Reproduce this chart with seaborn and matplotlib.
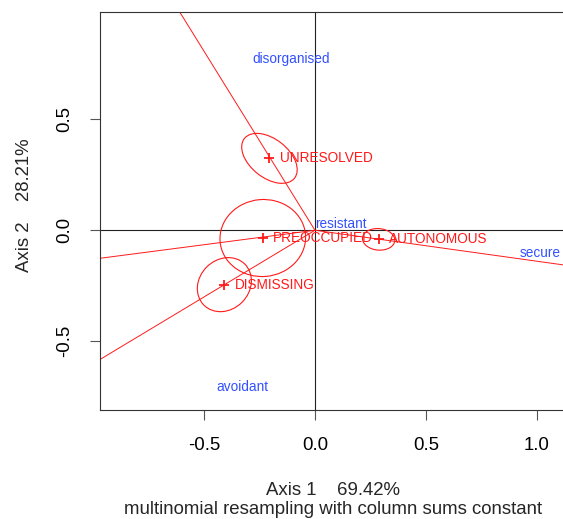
import numpy as np
import pandas as pd
import seaborn as sns
import matplotlib.pyplot as plt
from matplotlib.patches import Ellipse

# row points (attachment categories) and their confidence ellipses
row_names = ["UNRESOLVED", "PREOCCUPIED", "AUTONOMOUS", "DISMISSING"]
row_x = [-0.205, -0.235, 0.287, -0.408]
row_y = [0.324, -0.035, -0.041, -0.245]
ell_w = [0.288, 0.386, 0.146, 0.261]
ell_h = [0.174, 0.347, 0.097, 0.225]
ell_angle = [-38.5, 5, -5, 45]

# far ends of the lines drawn from the origin
line_x_end = [-0.61, -0.966, -0.966, 1.118]
line_y_end = [0.985, -0.126, -0.581, -0.156]

# column points (infant categories)
col_names = ["disorganised", "resistant", "avoidant", "secure"]
col_x = [-0.109, 0.116, -0.326, 1.013]
col_y = [0.770, 0.028, -0.707, -0.102]

x_ticks = [-0.5, 0.0, 0.5, 1.0]
y_ticks = [-0.5, 0.0, 0.5]

sns.set_theme(style="ticks")
plt.rcParams["font.family"] = ["Liberation Sans", "DejaVu Sans"]

red = "#ff1a1a"
blue = "#3350ff"

fig = plt.figure(figsize=(5.63, 5.19), dpi=100)
ax = fig.add_axes([0.1785, 0.21, 0.8265, 0.7675])

df_rows = pd.DataFrame({"x": row_x, "y": row_y, "name": row_names})

ax.axhline(0, color="#222222", lw=0.8, zorder=1)
ax.axvline(0, color="#222222", lw=0.8, zorder=1)

for xe, ye in zip(line_x_end, line_y_end):
    ax.plot([0, xe], [0, ye], color=red, lw=0.7, zorder=2)

for x, y, w, h, a in zip(row_x, row_y, ell_w, ell_h, ell_angle):
    ax.add_patch(Ellipse((x, y), w, h, angle=a, fill=False, ec=red, lw=0.8, zorder=2))

sns.scatterplot(data=df_rows, x="x", y="y", marker="+", s=60, color=red,
                linewidth=1.3, ax=ax, zorder=3, legend=False)

for x, y, name in zip(row_x, row_y, row_names):
    ax.annotate(name, (x, y), xytext=(7.5, 0), textcoords="offset points",
                ha="left", va="center", color=red, fontsize=9.8, zorder=4)

for x, y, name in zip(col_x, col_y, col_names):
    ax.text(x, y, name, ha="center", va="center", color=blue, fontsize=9.8, zorder=4)

ax.set_xlim(-0.966, 1.13)
ax.set_ylim(-0.81, 0.985)
ax.set_aspect("equal", adjustable="datalim")
ax.set_xticks(x_ticks)
ax.set_xticklabels(["-0.5", "0.0", "0.5", "1.0"])
ax.set_yticks(y_ticks)
ax.set_yticklabels(["-0.5", "0.0", "0.5"], rotation=90, va="center")
ax.tick_params(axis="both", length=7.5, width=0.8, color="#555555",
               labelsize=13.4, pad=12, labelcolor="black")
for s in ax.spines.values():
    s.set_color("#333333")
    s.set_linewidth(0.8)
ax.spines["right"].set_visible(False)

ax.set_xlabel("")
ax.set_ylabel("")
fig.text(0.592, 0.046, "Axis 1    69.42%", ha="center", va="baseline", fontsize=13.4)
fig.text(0.592, 0.009, "multinomial resampling with column sums constant",
         ha="center", va="baseline", fontsize=13.4)
fig.text(0.043, 0.605, "Axis 2    28.21%", ha="center", va="center",
         rotation=90, fontsize=13.4)

fig.savefig("out.png", dpi=100)
